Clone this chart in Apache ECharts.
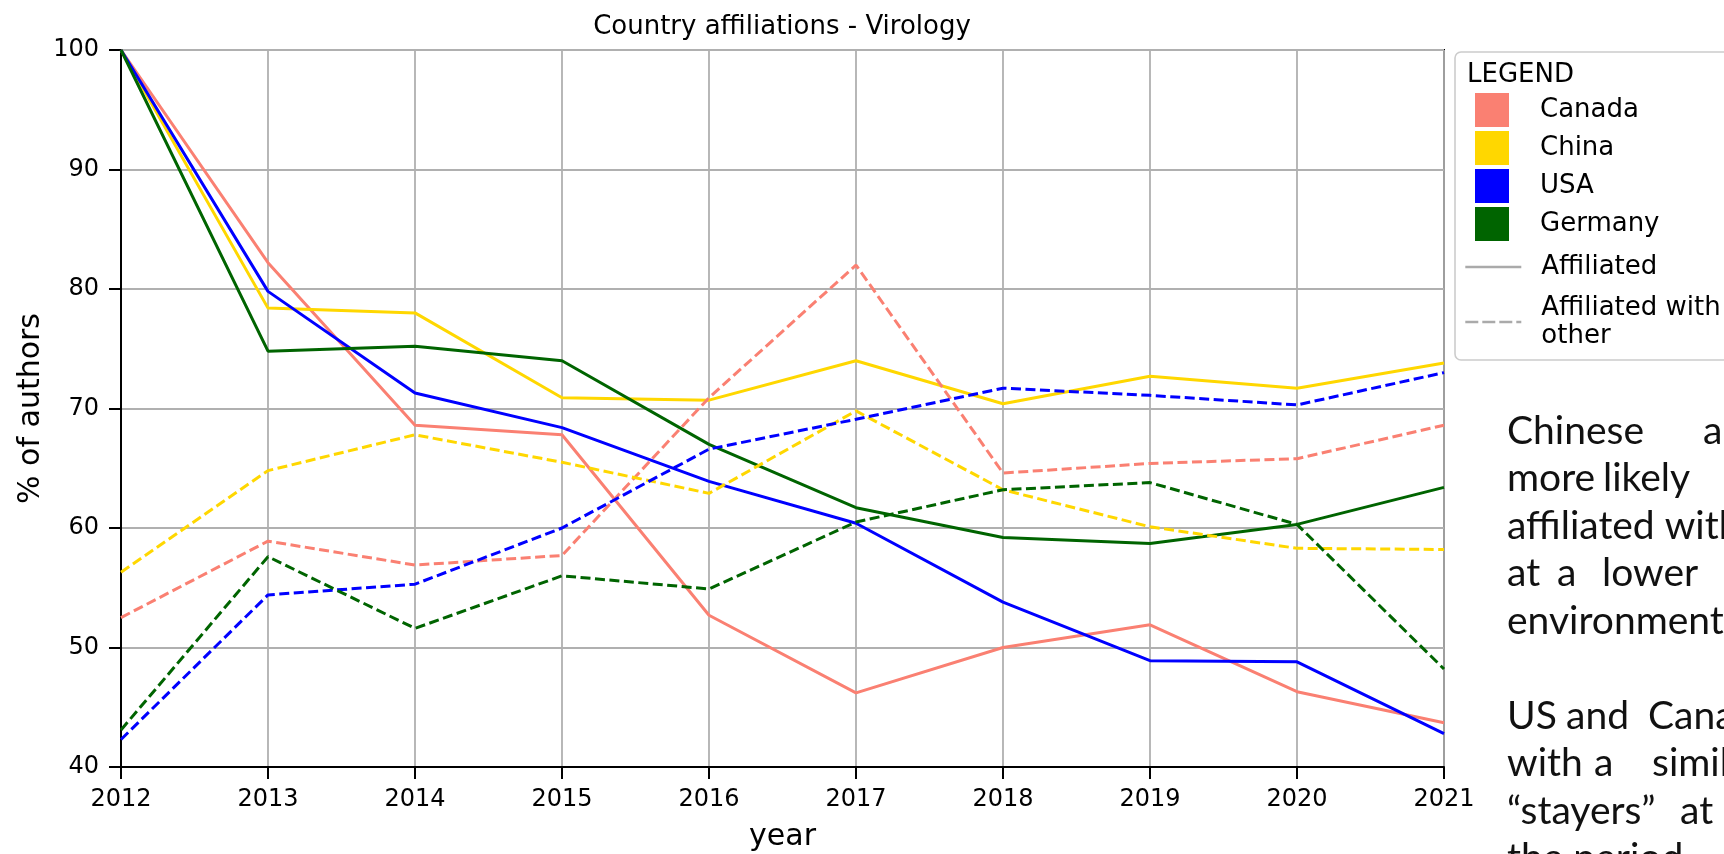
<!DOCTYPE html>
<html>
<head>
<meta charset="utf-8">
<title>Country affiliations - Virology</title>
<script src="https://cdn.jsdelivr.net/npm/echarts@6/dist/echarts.min.js"></script>
<style>
  html, body { margin: 0; padding: 0; background: #fff; overflow: hidden; }
  #chart { width: 1724px; height: 854px; }
</style>
</head>
<body>
<div id="chart"></div>
<script>
// years on the x axis
const years = ['2012', '2013', '2014', '2015', '2016', '2017', '2018', '2019', '2020', '2021'];

// % of authors, solid = affiliated, dashed = affiliated with other
const canadaAffiliated  = [100, 82.2, 68.6, 67.8, 52.7, 46.2, 50.0, 51.9, 46.3, 43.7];
const canadaOther       = [52.5, 58.9, 56.9, 57.7, 70.9, 82.0, 64.6, 65.4, 65.8, 68.6];
const chinaAffiliated   = [100, 78.4, 78.0, 70.9, 70.7, 74.0, 70.4, 72.7, 71.7, 73.8];
const chinaOther        = [56.3, 64.8, 67.8, 65.5, 62.9, 69.8, 63.2, 60.1, 58.3, 58.2];
const usaAffiliated     = [100, 79.8, 71.3, 68.4, 63.9, 60.4, 53.8, 48.9, 48.8, 42.8];
const usaOther          = [42.3, 54.4, 55.3, 60.0, 66.6, 69.1, 71.7, 71.1, 70.3, 73.0];
const germanyAffiliated = [100, 74.8, 75.2, 74.0, 67.0, 61.7, 59.2, 58.7, 60.3, 63.4];
const germanyOther      = [43.1, 57.6, 51.6, 56.0, 54.9, 60.5, 63.2, 63.8, 60.3, 48.2];

const countries = ['Canada', 'China', 'USA', 'Germany'];
const lineTypes = ['Affiliated', 'Affiliated with\nother'];

const colors = { Canada: '#FA8072', China: '#FFD700', USA: '#0000FF', Germany: '#006400' };
const FONT = 'DejaVu Sans';
const DASH = [10, 4.5];

function countrySeries(name, data, dashed) {
  return {
    type: 'line',
    name: name,
    data: data,
    symbol: 'none',
    silent: true,
    animation: false,
    itemStyle: { color: colors[name] },
    lineStyle: { color: colors[name], width: 3, type: dashed ? DASH : 'solid' }
  };
}

// legend-only series for the line style entries
function styleSeries(name, dashed) {
  return {
    type: 'line',
    name: name,
    data: [],
    symbol: 'none',
    silent: true,
    itemStyle: { color: '#aaaaaa' },
    lineStyle: { color: '#aaaaaa', width: 2.6, type: dashed ? [13, 4] : 'solid' }
  };
}

// text block on the right of the slide, cut by the page edge
const noteFont = { fontFamily: 'Lato', fontSize: 39, fill: '#111' };
const noteLines = [
  { y: 431, words: [['Chinese', 1507], ['a', 1703]] },
  { y: 478, words: [['more', 1507], ['likely', 1603]] },
  { y: 526, words: [['affiliated with', 1507]] },
  { y: 573, words: [['at', 1507], ['a', 1557], ['lower', 1602]] },
  { y: 621, words: [['environment', 1507]] },
  { y: 716, words: [['US', 1507], ['and', 1566], ['Canada', 1648]] },
  { y: 763, words: [['with', 1507], ['a', 1594], ['similar', 1652]] },
  { y: 811, words: [['\u201Cstayers\u201D', 1507], ['at', 1680]] },
  { y: 858, words: [['the period', 1507]] }
];

const noteTexts = [];
noteLines.forEach(function (line) {
  line.words.forEach(function (w) {
    noteTexts.push({
      type: 'text',
      x: w[1],
      y: line.y,
      silent: true,
      style: Object.assign({ text: w[0], verticalAlign: 'middle', align: 'left' }, noteFont)
    });
  });
});

const chart = echarts.init(document.getElementById('chart'), null, { renderer: 'canvas' });

const option = {
  backgroundColor: '#ffffff',
  animation: false,
  textStyle: { fontFamily: FONT },
  title: {
    text: 'Country affiliations - Virology',
    left: 782,
    top: 14,
    padding: 0,
    textAlign: 'center',
    textStyle: { fontFamily: FONT, fontSize: 26, fontWeight: 'normal', color: '#000' }
  },
  grid: {
    left: 121,
    top: 50,
    width: 1323,
    height: 717,
    show: true,
    borderColor: '#000',
    borderWidth: 2,
    backgroundColor: 'transparent',
    outerBoundsMode: 'none'
  },
  legend: [
    {
      orient: 'vertical',
      left: 1475,
      top: 93,
      padding: 0,
      itemWidth: 34,
      itemHeight: 34,
      itemGap: 4,
      icon: 'rect',
      selectedMode: false,
      data: countries,
      itemStyle: { borderWidth: 0 },
      textStyle: { fontFamily: FONT, fontSize: 26, color: '#000', padding: [9, 0, 0, 26] }
    },
    {
      orient: 'vertical',
      left: 1464,
      top: 253,
      padding: 0,
      itemWidth: 56,
      itemHeight: 14,
      itemGap: 13,
      selectedMode: false,
      data: lineTypes,
      itemStyle: { opacity: 0 },
      lineStyle: { width: 2.6 },
      textStyle: { fontFamily: FONT, fontSize: 26, lineHeight: 28, color: '#000', padding: [0, 0, 0, 15] }
    }
  ],
  xAxis: {
    type: 'category',
    data: years,
    boundaryGap: false,
    axisLine: { show: true, onZero: false, lineStyle: { color: '#000', width: 2 } },
    axisTick: { show: true, length: 12, interval: 0, lineStyle: { color: '#000', width: 2 } },
    axisLabel: { color: '#000', fontSize: 24, margin: 21, interval: 0, fontFamily: FONT },
    splitLine: { show: true, interval: 0, lineStyle: { color: '#b0b0b0', width: 1.8 } },
    name: 'year',
    nameLocation: 'middle',
    nameGap: 55,
    nameMoveOverlap: false,
    nameTextStyle: { fontFamily: FONT, fontSize: 30, color: '#000' }
  },
  yAxis: {
    type: 'value',
    min: 40,
    max: 100,
    interval: 10,
    axisLine: { show: true, lineStyle: { color: '#000', width: 2 } },
    axisTick: { show: true, length: 12, lineStyle: { color: '#000', width: 2 } },
    axisLabel: { color: '#000', fontSize: 24, margin: 22, fontFamily: FONT },
    splitLine: { show: true, lineStyle: { color: '#b0b0b0', width: 1.8 } },
    name: '% of authors',
    nameLocation: 'middle',
    nameRotate: 90,
    nameGap: 75,
    nameMoveOverlap: false,
    nameTextStyle: { fontFamily: FONT, fontSize: 30, color: '#000' }
  },
  graphic: [
    {
      type: 'rect',
      z: 1,
      silent: true,
      shape: { x: 1455, y: 52, width: 320, height: 308, r: 6 },
      style: { fill: 'rgba(255,255,255,0.85)', stroke: '#cccccc', lineWidth: 1.6 }
    },
    {
      type: 'text',
      x: 1467,
      y: 75,
      z: 2,
      silent: true,
      style: { text: 'LEGEND', fontFamily: FONT, fontSize: 26, fill: '#000', verticalAlign: 'middle' }
    }
  ].concat(noteTexts),
  series: [
    countrySeries('Canada', canadaAffiliated, false),
    countrySeries('China', chinaAffiliated, false),
    countrySeries('USA', usaAffiliated, false),
    countrySeries('Germany', germanyAffiliated, false),
    countrySeries('Canada', canadaOther, true),
    countrySeries('China', chinaOther, true),
    countrySeries('USA', usaOther, true),
    countrySeries('Germany', germanyOther, true),
    styleSeries('Affiliated', false),
    styleSeries('Affiliated with\nother', true)
  ]
};

chart.setOption(option);
</script>
</body>
</html>
